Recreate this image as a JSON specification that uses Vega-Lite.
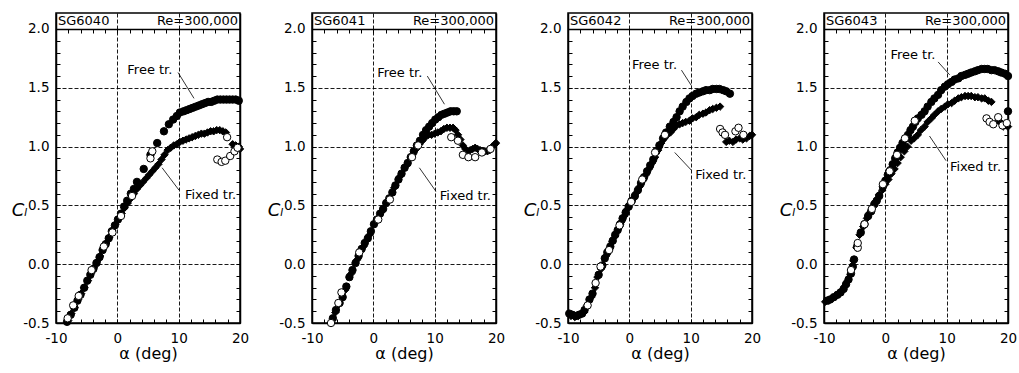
{
"$schema":"https://vega.github.io/schema/vega-lite/v6.json",
"background":"white",
"padding":{"left":10,"top":12,"right":0,"bottom":0},
"spacing":16,
"config":{
 "view":{"stroke":"black","strokeWidth":1.5},
 "axis":{"labelColor":"black","tickColor":"black","domainColor":"black","titleColor":"black","labelFont":"DejaVu Sans","titleFont":"DejaVu Sans","titleFontWeight":"normal","labelFontSize":13.5,"domainWidth":1.5,"tickWidth":1,"labelFlush":false,"labelOverlap":false,"gridColor":"black","gridDash":[4,2],"gridWidth":0.9},
 "text":{"font":"DejaVu Sans","fontSize":13,"color":"black"}
},
"datasets":{
 "p1":[
  {"s":"free","a":-8.2,"c":-0.49},{"s":"free","a":-7.6,"c":-0.43},{"s":"free","a":-7.0,"c":-0.37},{"s":"free","a":-6.5,"c":-0.31},{"s":"free","a":-6.0,"c":-0.26},{"s":"free","a":-5.4,"c":-0.2},{"s":"free","a":-4.9,"c":-0.14},{"s":"free","a":-4.4,"c":-0.09},{"s":"free","a":-3.9,"c":-0.04},{"s":"free","a":-3.4,"c":0.01},{"s":"free","a":-2.9,"c":0.06},{"s":"free","a":-2.4,"c":0.12},{"s":"free","a":-1.9,"c":0.17},{"s":"free","a":-1.4,"c":0.22},{"s":"free","a":-0.9,"c":0.28},{"s":"free","a":-0.4,"c":0.33},{"s":"free","a":0.1,"c":0.38},{"s":"free","a":0.6,"c":0.43},{"s":"free","a":1.1,"c":0.49},{"s":"free","a":1.6,"c":0.54},{"s":"free","a":2.2,"c":0.6},{"s":"free","a":2.7,"c":0.64},{"s":"free","a":3.2,"c":0.7},{"s":"free","a":4.3,"c":0.81},{"s":"free","a":5.4,"c":0.93},{"s":"free","a":6.5,"c":1.03},{"s":"free","a":7.6,"c":1.13},{"s":"free","a":8.4,"c":1.19},{"s":"free","a":9.1,"c":1.23},{"s":"free","a":9.7,"c":1.26},{"s":"free","a":10.2,"c":1.29},{"s":"free","a":10.8,"c":1.3},{"s":"free","a":11.3,"c":1.31},{"s":"free","a":11.8,"c":1.32},{"s":"free","a":12.3,"c":1.33},{"s":"free","a":12.8,"c":1.34},{"s":"free","a":13.3,"c":1.35},{"s":"free","a":13.8,"c":1.36},{"s":"free","a":14.3,"c":1.37},{"s":"free","a":14.8,"c":1.38},{"s":"free","a":15.3,"c":1.38},{"s":"free","a":15.8,"c":1.39},{"s":"free","a":16.3,"c":1.4},{"s":"free","a":16.8,"c":1.4},{"s":"free","a":17.3,"c":1.4},{"s":"free","a":17.8,"c":1.4},{"s":"free","a":18.3,"c":1.4},{"s":"free","a":18.8,"c":1.4},{"s":"free","a":19.3,"c":1.4},{"s":"free","a":19.8,"c":1.39},
  {"s":"fixed","a":-8.0,"c":-0.48},{"s":"fixed","a":-7.5,"c":-0.42},{"s":"fixed","a":-7.0,"c":-0.37},{"s":"fixed","a":-6.4,"c":-0.3},{"s":"fixed","a":-5.9,"c":-0.25},{"s":"fixed","a":-5.4,"c":-0.2},{"s":"fixed","a":-4.8,"c":-0.14},{"s":"fixed","a":-4.3,"c":-0.08},{"s":"fixed","a":-3.8,"c":-0.03},{"s":"fixed","a":-3.3,"c":0.02},{"s":"fixed","a":-2.8,"c":0.07},{"s":"fixed","a":-2.3,"c":0.13},{"s":"fixed","a":-1.8,"c":0.18},{"s":"fixed","a":-1.3,"c":0.23},{"s":"fixed","a":-0.8,"c":0.29},{"s":"fixed","a":-0.3,"c":0.34},{"s":"fixed","a":0.2,"c":0.39},{"s":"fixed","a":0.7,"c":0.43},{"s":"fixed","a":1.2,"c":0.48},{"s":"fixed","a":1.7,"c":0.52},{"s":"fixed","a":2.2,"c":0.56},{"s":"fixed","a":2.7,"c":0.6},{"s":"fixed","a":3.2,"c":0.64},{"s":"fixed","a":3.7,"c":0.67},{"s":"fixed","a":4.2,"c":0.7},{"s":"fixed","a":4.7,"c":0.73},{"s":"fixed","a":5.2,"c":0.76},{"s":"fixed","a":5.7,"c":0.79},{"s":"fixed","a":6.2,"c":0.82},{"s":"fixed","a":6.7,"c":0.85},{"s":"fixed","a":7.2,"c":0.89},{"s":"fixed","a":7.7,"c":0.93},{"s":"fixed","a":8.2,"c":0.97},{"s":"fixed","a":8.7,"c":0.99},{"s":"fixed","a":9.2,"c":1.01},{"s":"fixed","a":9.7,"c":1.02},{"s":"fixed","a":10.2,"c":1.04},{"s":"fixed","a":10.7,"c":1.05},{"s":"fixed","a":11.2,"c":1.06},{"s":"fixed","a":11.7,"c":1.07},{"s":"fixed","a":12.2,"c":1.08},{"s":"fixed","a":12.7,"c":1.09},{"s":"fixed","a":13.2,"c":1.1},{"s":"fixed","a":13.7,"c":1.11},{"s":"fixed","a":14.2,"c":1.11},{"s":"fixed","a":14.7,"c":1.12},{"s":"fixed","a":15.2,"c":1.13},{"s":"fixed","a":15.7,"c":1.13},{"s":"fixed","a":16.2,"c":1.14},{"s":"fixed","a":16.7,"c":1.14},{"s":"fixed","a":17.2,"c":1.13},{"s":"fixed","a":17.7,"c":1.12},{"s":"fixed","a":18.8,"c":1.02},{"s":"fixed","a":19.3,"c":1.01},{"s":"fixed","a":19.8,"c":1.0},{"s":"fixed","a":20.0,"c":0.98},
  {"s":"open","a":-8.1,"c":-0.46},{"s":"open","a":-7.2,"c":-0.35},{"s":"open","a":-6.3,"c":-0.27},{"s":"open","a":-4.2,"c":-0.05},{"s":"open","a":-2.2,"c":0.15},{"s":"open","a":-0.8,"c":0.27},{"s":"open","a":0.6,"c":0.41},{"s":"open","a":2.4,"c":0.58},{"s":"open","a":5.4,"c":0.9},{"s":"open","a":5.7,"c":0.96},{"s":"open","a":17.9,"c":1.08},{"s":"open","a":16.3,"c":0.89},{"s":"open","a":17.0,"c":0.87},{"s":"open","a":17.6,"c":0.88},{"s":"open","a":18.4,"c":0.92},{"s":"open","a":19.1,"c":0.96},{"s":"open","a":19.6,"c":0.99}
 ],
 "n1":[
  {"t":"Free tr.","a":5.3,"c":1.65,"a1":9.9,"c1":1.63,"a2":12.5,"c2":1.41},
  {"t":"Fixed tr.","a":15.2,"c":0.59,"a1":10.05,"c1":0.63,"a2":7.3,"c2":0.82}
 ],
 "p2":[
  {"s":"free","a":-6.6,"c":-0.46},{"s":"free","a":-6.1,"c":-0.39},{"s":"free","a":-5.5,"c":-0.33},{"s":"free","a":-5.0,"c":-0.28},{"s":"free","a":-4.4,"c":-0.19},{"s":"free","a":-3.9,"c":-0.11},{"s":"free","a":-3.4,"c":-0.05},{"s":"free","a":-2.9,"c":0.01},{"s":"free","a":-2.4,"c":0.07},{"s":"free","a":-1.9,"c":0.13},{"s":"free","a":-1.4,"c":0.18},{"s":"free","a":-0.9,"c":0.22},{"s":"free","a":-0.4,"c":0.28},{"s":"free","a":0.1,"c":0.34},{"s":"free","a":0.6,"c":0.38},{"s":"free","a":1.1,"c":0.43},{"s":"free","a":1.6,"c":0.47},{"s":"free","a":2.1,"c":0.52},{"s":"free","a":2.6,"c":0.56},{"s":"free","a":3.1,"c":0.61},{"s":"free","a":3.6,"c":0.67},{"s":"free","a":4.1,"c":0.72},{"s":"free","a":4.6,"c":0.77},{"s":"free","a":5.1,"c":0.82},{"s":"free","a":5.6,"c":0.86},{"s":"free","a":6.1,"c":0.91},{"s":"free","a":6.6,"c":0.96},{"s":"free","a":7.1,"c":1.01},{"s":"free","a":7.6,"c":1.05},{"s":"free","a":8.1,"c":1.1},{"s":"free","a":8.6,"c":1.14},{"s":"free","a":9.1,"c":1.17},{"s":"free","a":9.6,"c":1.2},{"s":"free","a":10.1,"c":1.23},{"s":"free","a":10.6,"c":1.25},{"s":"free","a":11.1,"c":1.27},{"s":"free","a":11.6,"c":1.28},{"s":"free","a":12.1,"c":1.29},{"s":"free","a":12.6,"c":1.3},{"s":"free","a":13.1,"c":1.3},{"s":"free","a":13.6,"c":1.3},
  {"s":"fixed","a":-6.2,"c":-0.41},{"s":"fixed","a":-5.6,"c":-0.34},{"s":"fixed","a":-4.6,"c":-0.22},{"s":"fixed","a":-3.6,"c":-0.08},{"s":"fixed","a":-2.6,"c":0.04},{"s":"fixed","a":-1.6,"c":0.15},{"s":"fixed","a":-0.6,"c":0.25},{"s":"fixed","a":0.4,"c":0.36},{"s":"fixed","a":1.4,"c":0.45},{"s":"fixed","a":2.4,"c":0.54},{"s":"fixed","a":3.4,"c":0.65},{"s":"fixed","a":4.4,"c":0.75},{"s":"fixed","a":5.4,"c":0.84},{"s":"fixed","a":6.4,"c":0.93},{"s":"fixed","a":7.0,"c":0.98},{"s":"fixed","a":7.5,"c":1.02},{"s":"fixed","a":8.0,"c":1.05},{"s":"fixed","a":8.5,"c":1.08},{"s":"fixed","a":9.0,"c":1.1},{"s":"fixed","a":9.5,"c":1.1},{"s":"fixed","a":10.0,"c":1.11},{"s":"fixed","a":10.5,"c":1.12},{"s":"fixed","a":11.0,"c":1.13},{"s":"fixed","a":11.5,"c":1.15},{"s":"fixed","a":12.0,"c":1.16},{"s":"fixed","a":12.5,"c":1.16},{"s":"fixed","a":13.0,"c":1.16},{"s":"fixed","a":13.4,"c":1.14},{"s":"fixed","a":13.8,"c":1.1},{"s":"fixed","a":14.2,"c":1.06},{"s":"fixed","a":14.6,"c":1.01},{"s":"fixed","a":15.0,"c":0.98},{"s":"fixed","a":15.4,"c":0.96},{"s":"fixed","a":15.8,"c":0.97},{"s":"fixed","a":16.2,"c":0.98},{"s":"fixed","a":16.6,"c":0.99},{"s":"fixed","a":17.0,"c":0.98},{"s":"fixed","a":17.4,"c":0.97},{"s":"fixed","a":17.8,"c":0.96},{"s":"fixed","a":18.2,"c":0.96},{"s":"fixed","a":18.6,"c":0.96},{"s":"fixed","a":19.0,"c":0.97},{"s":"fixed","a":19.4,"c":1.0},{"s":"fixed","a":19.8,"c":1.02},{"s":"fixed","a":20.0,"c":1.03},
  {"s":"open","a":-6.9,"c":-0.5},{"s":"open","a":-5.7,"c":-0.33},{"s":"open","a":-5.2,"c":-0.24},{"s":"open","a":-2.3,"c":0.1},{"s":"open","a":0.8,"c":0.38},{"s":"open","a":2.7,"c":0.55},{"s":"open","a":6.3,"c":0.91},{"s":"open","a":7.3,"c":1.01},{"s":"open","a":12.7,"c":1.08},{"s":"open","a":13.8,"c":1.05},{"s":"open","a":14.6,"c":0.93},{"s":"open","a":15.5,"c":0.91},{"s":"open","a":16.6,"c":0.91},{"s":"open","a":17.7,"c":0.95},{"s":"open","a":19.1,"c":0.98}
 ],
 "n2":[
  {"t":"Free tr.","a":4.3,"c":1.63,"a1":8.8,"c1":1.6,"a2":11.6,"c2":1.36},
  {"t":"Fixed tr.","a":15.0,"c":0.58,"a1":10.2,"c1":0.62,"a2":7.5,"c2":0.82}
 ],
 "p3":[
  {"s":"free","a":-9.8,"c":-0.42},{"s":"free","a":-9.3,"c":-0.43},{"s":"free","a":-8.7,"c":-0.44},{"s":"free","a":-8.2,"c":-0.43},{"s":"free","a":-7.7,"c":-0.42},{"s":"free","a":-7.3,"c":-0.39},{"s":"free","a":-6.5,"c":-0.3},{"s":"free","a":-6.0,"c":-0.25},{"s":"free","a":-5.0,"c":-0.09},{"s":"free","a":-4.4,"c":-0.01},{"s":"free","a":-4.0,"c":0.05},{"s":"free","a":-3.6,"c":0.1},{"s":"free","a":-3.1,"c":0.15},{"s":"free","a":-2.7,"c":0.2},{"s":"free","a":-2.3,"c":0.25},{"s":"free","a":-1.9,"c":0.29},{"s":"free","a":-1.5,"c":0.34},{"s":"free","a":-1.1,"c":0.39},{"s":"free","a":-0.6,"c":0.44},{"s":"free","a":-0.1,"c":0.49},{"s":"free","a":0.4,"c":0.54},{"s":"free","a":0.9,"c":0.58},{"s":"free","a":1.4,"c":0.63},{"s":"free","a":1.9,"c":0.69},{"s":"free","a":2.4,"c":0.74},{"s":"free","a":2.9,"c":0.79},{"s":"free","a":3.4,"c":0.84},{"s":"free","a":3.9,"c":0.89},{"s":"free","a":4.4,"c":0.96},{"s":"free","a":4.9,"c":1.01},{"s":"free","a":5.5,"c":1.07},{"s":"free","a":6.0,"c":1.12},{"s":"free","a":6.6,"c":1.17},{"s":"free","a":7.2,"c":1.21},{"s":"free","a":7.7,"c":1.25},{"s":"free","a":8.2,"c":1.3},{"s":"free","a":8.7,"c":1.34},{"s":"free","a":9.3,"c":1.38},{"s":"free","a":9.8,"c":1.41},{"s":"free","a":10.3,"c":1.43},{"s":"free","a":10.9,"c":1.45},{"s":"free","a":11.4,"c":1.46},{"s":"free","a":12.0,"c":1.47},{"s":"free","a":12.5,"c":1.48},{"s":"free","a":13.1,"c":1.48},{"s":"free","a":13.6,"c":1.49},{"s":"free","a":14.2,"c":1.49},{"s":"free","a":14.7,"c":1.49},{"s":"free","a":15.3,"c":1.48},{"s":"free","a":15.8,"c":1.47},{"s":"free","a":16.4,"c":1.45},
  {"s":"fixed","a":-9.5,"c":-0.44},{"s":"fixed","a":-8.9,"c":-0.45},{"s":"fixed","a":-8.3,"c":-0.44},{"s":"fixed","a":-7.4,"c":-0.41},{"s":"fixed","a":-6.9,"c":-0.35},{"s":"fixed","a":-6.2,"c":-0.28},{"s":"fixed","a":-5.6,"c":-0.2},{"s":"fixed","a":-5.2,"c":-0.11},{"s":"fixed","a":-4.6,"c":-0.04},{"s":"fixed","a":-3.8,"c":0.07},{"s":"fixed","a":-3.3,"c":0.13},{"s":"fixed","a":-2.8,"c":0.19},{"s":"fixed","a":-2.3,"c":0.24},{"s":"fixed","a":-1.8,"c":0.3},{"s":"fixed","a":-1.3,"c":0.36},{"s":"fixed","a":-0.8,"c":0.41},{"s":"fixed","a":-0.3,"c":0.47},{"s":"fixed","a":0.2,"c":0.52},{"s":"fixed","a":0.7,"c":0.56},{"s":"fixed","a":1.2,"c":0.61},{"s":"fixed","a":1.7,"c":0.66},{"s":"fixed","a":2.2,"c":0.71},{"s":"fixed","a":2.7,"c":0.76},{"s":"fixed","a":3.2,"c":0.81},{"s":"fixed","a":3.7,"c":0.86},{"s":"fixed","a":4.2,"c":0.91},{"s":"fixed","a":4.7,"c":0.97},{"s":"fixed","a":5.2,"c":1.03},{"s":"fixed","a":5.7,"c":1.07},{"s":"fixed","a":6.2,"c":1.1},{"s":"fixed","a":6.7,"c":1.12},{"s":"fixed","a":7.2,"c":1.15},{"s":"fixed","a":7.7,"c":1.18},{"s":"fixed","a":8.2,"c":1.19},{"s":"fixed","a":8.7,"c":1.2},{"s":"fixed","a":9.2,"c":1.21},{"s":"fixed","a":9.8,"c":1.22},{"s":"fixed","a":10.3,"c":1.24},{"s":"fixed","a":10.9,"c":1.25},{"s":"fixed","a":11.4,"c":1.27},{"s":"fixed","a":12.0,"c":1.28},{"s":"fixed","a":12.5,"c":1.29},{"s":"fixed","a":13.1,"c":1.31},{"s":"fixed","a":13.6,"c":1.32},{"s":"fixed","a":14.2,"c":1.33},{"s":"fixed","a":14.8,"c":1.34},{"s":"fixed","a":15.8,"c":1.04},{"s":"fixed","a":16.3,"c":1.05},{"s":"fixed","a":16.9,"c":1.04},{"s":"fixed","a":17.4,"c":1.06},{"s":"fixed","a":18.0,"c":1.07},{"s":"fixed","a":18.5,"c":1.06},{"s":"fixed","a":19.1,"c":1.07},{"s":"fixed","a":19.6,"c":1.09},{"s":"fixed","a":20.0,"c":1.1},
  {"s":"open","a":-6.8,"c":-0.35},{"s":"open","a":-5.5,"c":-0.16},{"s":"open","a":-4.7,"c":-0.02},{"s":"open","a":-3.3,"c":0.12},{"s":"open","a":-1.6,"c":0.33},{"s":"open","a":0.3,"c":0.53},{"s":"open","a":2.1,"c":0.72},{"s":"open","a":4.2,"c":0.95},{"s":"open","a":5.8,"c":1.1},{"s":"open","a":14.8,"c":1.15},{"s":"open","a":15.2,"c":1.12},{"s":"open","a":15.6,"c":1.1},{"s":"open","a":17.3,"c":1.13},{"s":"open","a":17.8,"c":1.16},{"s":"open","a":18.6,"c":1.1}
 ],
 "n3":[
  {"t":"Free tr.","a":4.1,"c":1.69,"a1":8.5,"c1":1.65,"a2":10.1,"c2":1.52},
  {"t":"Fixed tr.","a":14.9,"c":0.76,"a1":10.1,"c1":0.8,"a2":7.4,"c2":0.95}
 ],
 "p4":[
  {"s":"free","a":-9.5,"c":-0.31},{"s":"free","a":-9.0,"c":-0.3},{"s":"free","a":-8.4,"c":-0.28},{"s":"free","a":-7.8,"c":-0.26},{"s":"free","a":-7.3,"c":-0.24},{"s":"free","a":-6.8,"c":-0.21},{"s":"free","a":-6.4,"c":-0.17},{"s":"free","a":-6.0,"c":-0.13},{"s":"free","a":-5.6,"c":-0.08},{"s":"free","a":-5.3,"c":-0.02},{"s":"free","a":-5.1,"c":0.04},{"s":"free","a":-4.6,"c":0.15},{"s":"free","a":-4.0,"c":0.27},{"s":"free","a":-3.4,"c":0.34},{"s":"free","a":-2.8,"c":0.41},{"s":"free","a":-2.3,"c":0.45},{"s":"free","a":-1.8,"c":0.51},{"s":"free","a":-1.4,"c":0.54},{"s":"free","a":-1.0,"c":0.58},{"s":"free","a":-0.4,"c":0.66},{"s":"free","a":0.0,"c":0.71},{"s":"free","a":0.4,"c":0.76},{"s":"free","a":0.8,"c":0.8},{"s":"free","a":1.2,"c":0.85},{"s":"free","a":1.6,"c":0.9},{"s":"free","a":2.0,"c":0.95},{"s":"free","a":2.4,"c":0.99},{"s":"free","a":2.8,"c":1.03},{"s":"free","a":3.3,"c":1.07},{"s":"free","a":3.7,"c":1.1},{"s":"free","a":4.1,"c":1.14},{"s":"free","a":4.5,"c":1.17},{"s":"free","a":4.9,"c":1.21},{"s":"free","a":5.3,"c":1.24},{"s":"free","a":5.9,"c":1.27},{"s":"free","a":6.4,"c":1.3},{"s":"free","a":6.9,"c":1.34},{"s":"free","a":7.5,"c":1.38},{"s":"free","a":8.0,"c":1.41},{"s":"free","a":8.6,"c":1.44},{"s":"free","a":9.1,"c":1.48},{"s":"free","a":9.7,"c":1.51},{"s":"free","a":10.2,"c":1.53},{"s":"free","a":10.8,"c":1.55},{"s":"free","a":11.3,"c":1.57},{"s":"free","a":11.9,"c":1.58},{"s":"free","a":12.4,"c":1.6},{"s":"free","a":13.0,"c":1.61},{"s":"free","a":13.5,"c":1.62},{"s":"free","a":14.0,"c":1.63},{"s":"free","a":14.6,"c":1.64},{"s":"free","a":15.1,"c":1.65},{"s":"free","a":15.7,"c":1.66},{"s":"free","a":16.2,"c":1.66},{"s":"free","a":16.7,"c":1.66},{"s":"free","a":17.3,"c":1.65},{"s":"free","a":17.8,"c":1.65},{"s":"free","a":18.4,"c":1.64},{"s":"free","a":18.9,"c":1.63},{"s":"free","a":19.5,"c":1.62},{"s":"free","a":20.0,"c":1.6},{"s":"free","a":20.0,"c":1.3},
  {"s":"fixed","a":-9.8,"c":-0.32},{"s":"fixed","a":-9.2,"c":-0.31},{"s":"fixed","a":-8.6,"c":-0.29},{"s":"fixed","a":-8.0,"c":-0.27},{"s":"fixed","a":-7.5,"c":-0.25},{"s":"fixed","a":-7.0,"c":-0.22},{"s":"fixed","a":-6.5,"c":-0.18},{"s":"fixed","a":-6.1,"c":-0.14},{"s":"fixed","a":-5.7,"c":-0.09},{"s":"fixed","a":-5.4,"c":-0.03},{"s":"fixed","a":-5.2,"c":0.03},{"s":"fixed","a":-4.7,"c":0.14},{"s":"fixed","a":-4.2,"c":0.25},{"s":"fixed","a":-3.6,"c":0.32},{"s":"fixed","a":-3.0,"c":0.39},{"s":"fixed","a":-2.5,"c":0.44},{"s":"fixed","a":-2.0,"c":0.49},{"s":"fixed","a":-1.5,"c":0.54},{"s":"fixed","a":-1.0,"c":0.59},{"s":"fixed","a":-0.5,"c":0.63},{"s":"fixed","a":0.0,"c":0.68},{"s":"fixed","a":0.5,"c":0.72},{"s":"fixed","a":1.0,"c":0.77},{"s":"fixed","a":1.5,"c":0.81},{"s":"fixed","a":2.0,"c":0.86},{"s":"fixed","a":2.5,"c":0.91},{"s":"fixed","a":3.1,"c":0.96},{"s":"fixed","a":3.6,"c":1.0},{"s":"fixed","a":4.2,"c":1.05},{"s":"fixed","a":4.7,"c":1.07},{"s":"fixed","a":5.3,"c":1.1},{"s":"fixed","a":5.8,"c":1.14},{"s":"fixed","a":6.4,"c":1.17},{"s":"fixed","a":6.9,"c":1.21},{"s":"fixed","a":7.5,"c":1.24},{"s":"fixed","a":8.0,"c":1.27},{"s":"fixed","a":8.6,"c":1.3},{"s":"fixed","a":9.1,"c":1.32},{"s":"fixed","a":9.7,"c":1.34},{"s":"fixed","a":10.2,"c":1.36},{"s":"fixed","a":10.8,"c":1.37},{"s":"fixed","a":11.3,"c":1.39},{"s":"fixed","a":11.9,"c":1.41},{"s":"fixed","a":12.4,"c":1.42},{"s":"fixed","a":13.0,"c":1.43},{"s":"fixed","a":13.5,"c":1.43},{"s":"fixed","a":14.0,"c":1.43},{"s":"fixed","a":14.6,"c":1.42},{"s":"fixed","a":15.1,"c":1.42},{"s":"fixed","a":15.7,"c":1.41},{"s":"fixed","a":16.2,"c":1.41},{"s":"fixed","a":16.8,"c":1.39},{"s":"fixed","a":17.3,"c":1.38},{"s":"fixed","a":18.4,"c":1.22},{"s":"fixed","a":18.9,"c":1.2},{"s":"fixed","a":19.2,"c":1.17},{"s":"fixed","a":19.7,"c":1.18},{"s":"fixed","a":20.0,"c":1.17},
  {"s":"open","a":-5.6,"c":-0.05},{"s":"open","a":-4.5,"c":0.14},{"s":"open","a":-4.5,"c":0.18},{"s":"open","a":-3.4,"c":0.34},{"s":"open","a":-2.2,"c":0.47},{"s":"open","a":-0.4,"c":0.68},{"s":"open","a":0.7,"c":0.79},{"s":"open","a":1.9,"c":0.93},{"s":"open","a":3.2,"c":1.07},{"s":"open","a":4.8,"c":1.22},{"s":"open","a":16.5,"c":1.24},{"s":"open","a":17.0,"c":1.21},{"s":"open","a":17.6,"c":1.19},{"s":"open","a":18.4,"c":1.25},{"s":"open","a":19.1,"c":1.18},{"s":"open","a":19.8,"c":1.2}
 ],
 "n4":[
  {"t":"Free tr.","a":4.5,"c":1.78,"a1":8.6,"c1":1.72,"a2":10.5,"c2":1.61},
  {"t":"Fixed tr.","a":14.7,"c":0.83,"a1":9.9,"c1":0.88,"a2":7.2,"c2":1.09}
 ]
},
"hconcat":[
 {"width":184,"height":310,"layer":[
  {"data":{"name":"p1"},"mark":{"type":"point","filled":true,"size":55,"stroke":"black","strokeWidth":1,"opacity":1},
   "encoding":{
    "x":{"field":"a","type":"quantitative","scale":{"domain":[-10,20],"nice":false,"zero":false},"axis":{"orient":"bottom","values":[-10,-8,-6,-4,-2,0,2,4,6,8,10,12,14,16,18,20],"labelExpr":"datum.value % 10 === 0 ? '' + datum.value : ''","tickSize":-4,"labelPadding":12,"grid":true,"gridOpacity":{"condition":{"test":"datum.value === 0 || datum.value === 10","value":1},"value":0},"title":"α (deg)","titleFontSize":16,"titlePadding":1}},
    "y":{"field":"c","type":"quantitative","scale":{"domain":[-0.5,2.136],"nice":false,"zero":false},"axis":{"orient":"left","values":[-0.5,-0.4,-0.3,-0.2,-0.1,0,0.1,0.2,0.3,0.4,0.5,0.6,0.7,0.8,0.9,1,1.1,1.2,1.3,1.4,1.5,1.6,1.7,1.8,1.9,2],"labelExpr":"datum.value * 2 % 1 === 0 ? (datum.value < 0 ? '-' : '') + format(abs(datum.value), '.1f') : ''","tickSize":-4,"labelPadding":11,"grid":true,"gridOpacity":{"condition":{"test":"datum.value * 2 % 1 === 0 && datum.value > -0.4 && datum.value < 1.9","value":1},"value":0},"title":"Cₗ","titleAngle":0,"titleX":-37,"titleY":197,"titleAlign":"center","titleBaseline":"middle","titleFont":"DejaVu Sans","titleFontStyle":"italic","titleFontSize":18}},
    "shape":{"field":"s","type":"nominal","scale":{"domain":["free","fixed","open"],"range":["circle","diamond","circle"]},"legend":null},
    "fill":{"field":"s","type":"nominal","scale":{"domain":["free","fixed","open"],"range":["black","black","white"]},"legend":null}}},
  {"data":{"name":"n1"},"mark":{"type":"rule","color":"black","strokeWidth":0.8},
   "encoding":{
    "x":{"field":"a1","type":"quantitative","scale":{"domain":[-10,20],"nice":false,"zero":false},"axis":{"orient":"top","offset":-16,"values":[-10,-8,-6,-4,-2,0,2,4,6,8,10,12,14,16,18,20],"labels":false,"tickSize":-4,"grid":false,"title":null}},
    "y":{"field":"c1","type":"quantitative","scale":{"domain":[-0.5,2.136],"nice":false,"zero":false},"axis":{"orient":"right","values":[-0.5,-0.4,-0.3,-0.2,-0.1,0,0.1,0.2,0.3,0.4,0.5,0.6,0.7,0.8,0.9,1,1.1,1.2,1.3,1.4,1.5,1.6,1.7,1.8,1.9,2],"labels":false,"tickSize":-4,"grid":false,"title":null}},
    "x2":{"field":"a2"},"y2":{"field":"c2"}}},
  {"data":{"name":"n1"},"mark":{"type":"text","align":"center","baseline":"middle","fontSize":13},
   "encoding":{"x":{"field":"a","type":"quantitative","axis":null},"y":{"field":"c","type":"quantitative","axis":null},"text":{"field":"t"}}},
  {"data":{"values":[{"t":"SG6040"}]},"mark":{"type":"text","align":"left","baseline":"middle","dx":2,"fontSize":13},
   "encoding":{"x":{"datum":-10,"type":"quantitative","axis":null},"y":{"datum":2.068,"type":"quantitative","axis":null},"text":{"field":"t"}}},
  {"data":{"values":[{"t":"Re=300,000"}]},"mark":{"type":"text","align":"right","baseline":"middle","dx":-2,"fontSize":13},
   "encoding":{"x":{"datum":20,"type":"quantitative","axis":null},"y":{"datum":2.068,"type":"quantitative","axis":null},"text":{"field":"t"}}}
 ]},
 {"width":184,"height":310,"layer":[
  {"data":{"name":"p2"},"mark":{"type":"point","filled":true,"size":55,"stroke":"black","strokeWidth":1,"opacity":1},
   "encoding":{
    "x":{"field":"a","type":"quantitative","scale":{"domain":[-10,20],"nice":false,"zero":false},"axis":{"orient":"bottom","values":[-10,-8,-6,-4,-2,0,2,4,6,8,10,12,14,16,18,20],"labelExpr":"datum.value % 10 === 0 ? '' + datum.value : ''","tickSize":-4,"labelPadding":12,"grid":true,"gridOpacity":{"condition":{"test":"datum.value === 0 || datum.value === 10","value":1},"value":0},"title":"α (deg)","titleFontSize":16,"titlePadding":1}},
    "y":{"field":"c","type":"quantitative","scale":{"domain":[-0.5,2.136],"nice":false,"zero":false},"axis":{"orient":"left","values":[-0.5,-0.4,-0.3,-0.2,-0.1,0,0.1,0.2,0.3,0.4,0.5,0.6,0.7,0.8,0.9,1,1.1,1.2,1.3,1.4,1.5,1.6,1.7,1.8,1.9,2],"labelExpr":"datum.value * 2 % 1 === 0 ? (datum.value < 0 ? '-' : '') + format(abs(datum.value), '.1f') : ''","tickSize":-4,"labelPadding":11,"grid":true,"gridOpacity":{"condition":{"test":"datum.value * 2 % 1 === 0 && datum.value > -0.4 && datum.value < 1.9","value":1},"value":0},"title":"Cₗ","titleAngle":0,"titleX":-37,"titleY":197,"titleAlign":"center","titleBaseline":"middle","titleFont":"DejaVu Sans","titleFontStyle":"italic","titleFontSize":18}},
    "shape":{"field":"s","type":"nominal","scale":{"domain":["free","fixed","open"],"range":["circle","diamond","circle"]},"legend":null},
    "fill":{"field":"s","type":"nominal","scale":{"domain":["free","fixed","open"],"range":["black","black","white"]},"legend":null}}},
  {"data":{"name":"n2"},"mark":{"type":"rule","color":"black","strokeWidth":0.8},
   "encoding":{
    "x":{"field":"a1","type":"quantitative","scale":{"domain":[-10,20],"nice":false,"zero":false},"axis":{"orient":"top","offset":-16,"values":[-10,-8,-6,-4,-2,0,2,4,6,8,10,12,14,16,18,20],"labels":false,"tickSize":-4,"grid":false,"title":null}},
    "y":{"field":"c1","type":"quantitative","scale":{"domain":[-0.5,2.136],"nice":false,"zero":false},"axis":{"orient":"right","values":[-0.5,-0.4,-0.3,-0.2,-0.1,0,0.1,0.2,0.3,0.4,0.5,0.6,0.7,0.8,0.9,1,1.1,1.2,1.3,1.4,1.5,1.6,1.7,1.8,1.9,2],"labels":false,"tickSize":-4,"grid":false,"title":null}},
    "x2":{"field":"a2"},"y2":{"field":"c2"}}},
  {"data":{"name":"n2"},"mark":{"type":"text","align":"center","baseline":"middle","fontSize":13},
   "encoding":{"x":{"field":"a","type":"quantitative","axis":null},"y":{"field":"c","type":"quantitative","axis":null},"text":{"field":"t"}}},
  {"data":{"values":[{"t":"SG6041"}]},"mark":{"type":"text","align":"left","baseline":"middle","dx":2,"fontSize":13},
   "encoding":{"x":{"datum":-10,"type":"quantitative","axis":null},"y":{"datum":2.068,"type":"quantitative","axis":null},"text":{"field":"t"}}},
  {"data":{"values":[{"t":"Re=300,000"}]},"mark":{"type":"text","align":"right","baseline":"middle","dx":-2,"fontSize":13},
   "encoding":{"x":{"datum":20,"type":"quantitative","axis":null},"y":{"datum":2.068,"type":"quantitative","axis":null},"text":{"field":"t"}}}
 ]},
 {"width":184,"height":310,"layer":[
  {"data":{"name":"p3"},"mark":{"type":"point","filled":true,"size":55,"stroke":"black","strokeWidth":1,"opacity":1},
   "encoding":{
    "x":{"field":"a","type":"quantitative","scale":{"domain":[-10,20],"nice":false,"zero":false},"axis":{"orient":"bottom","values":[-10,-8,-6,-4,-2,0,2,4,6,8,10,12,14,16,18,20],"labelExpr":"datum.value % 10 === 0 ? '' + datum.value : ''","tickSize":-4,"labelPadding":12,"grid":true,"gridOpacity":{"condition":{"test":"datum.value === 0 || datum.value === 10","value":1},"value":0},"title":"α (deg)","titleFontSize":16,"titlePadding":1}},
    "y":{"field":"c","type":"quantitative","scale":{"domain":[-0.5,2.136],"nice":false,"zero":false},"axis":{"orient":"left","values":[-0.5,-0.4,-0.3,-0.2,-0.1,0,0.1,0.2,0.3,0.4,0.5,0.6,0.7,0.8,0.9,1,1.1,1.2,1.3,1.4,1.5,1.6,1.7,1.8,1.9,2],"labelExpr":"datum.value * 2 % 1 === 0 ? (datum.value < 0 ? '-' : '') + format(abs(datum.value), '.1f') : ''","tickSize":-4,"labelPadding":11,"grid":true,"gridOpacity":{"condition":{"test":"datum.value * 2 % 1 === 0 && datum.value > -0.4 && datum.value < 1.9","value":1},"value":0},"title":"Cₗ","titleAngle":0,"titleX":-37,"titleY":197,"titleAlign":"center","titleBaseline":"middle","titleFont":"DejaVu Sans","titleFontStyle":"italic","titleFontSize":18}},
    "shape":{"field":"s","type":"nominal","scale":{"domain":["free","fixed","open"],"range":["circle","diamond","circle"]},"legend":null},
    "fill":{"field":"s","type":"nominal","scale":{"domain":["free","fixed","open"],"range":["black","black","white"]},"legend":null}}},
  {"data":{"name":"n3"},"mark":{"type":"rule","color":"black","strokeWidth":0.8},
   "encoding":{
    "x":{"field":"a1","type":"quantitative","scale":{"domain":[-10,20],"nice":false,"zero":false},"axis":{"orient":"top","offset":-16,"values":[-10,-8,-6,-4,-2,0,2,4,6,8,10,12,14,16,18,20],"labels":false,"tickSize":-4,"grid":false,"title":null}},
    "y":{"field":"c1","type":"quantitative","scale":{"domain":[-0.5,2.136],"nice":false,"zero":false},"axis":{"orient":"right","values":[-0.5,-0.4,-0.3,-0.2,-0.1,0,0.1,0.2,0.3,0.4,0.5,0.6,0.7,0.8,0.9,1,1.1,1.2,1.3,1.4,1.5,1.6,1.7,1.8,1.9,2],"labels":false,"tickSize":-4,"grid":false,"title":null}},
    "x2":{"field":"a2"},"y2":{"field":"c2"}}},
  {"data":{"name":"n3"},"mark":{"type":"text","align":"center","baseline":"middle","fontSize":13},
   "encoding":{"x":{"field":"a","type":"quantitative","axis":null},"y":{"field":"c","type":"quantitative","axis":null},"text":{"field":"t"}}},
  {"data":{"values":[{"t":"SG6042"}]},"mark":{"type":"text","align":"left","baseline":"middle","dx":2,"fontSize":13},
   "encoding":{"x":{"datum":-10,"type":"quantitative","axis":null},"y":{"datum":2.068,"type":"quantitative","axis":null},"text":{"field":"t"}}},
  {"data":{"values":[{"t":"Re=300,000"}]},"mark":{"type":"text","align":"right","baseline":"middle","dx":-2,"fontSize":13},
   "encoding":{"x":{"datum":20,"type":"quantitative","axis":null},"y":{"datum":2.068,"type":"quantitative","axis":null},"text":{"field":"t"}}}
 ]},
 {"width":184,"height":310,"layer":[
  {"data":{"name":"p4"},"mark":{"type":"point","filled":true,"size":55,"stroke":"black","strokeWidth":1,"opacity":1},
   "encoding":{
    "x":{"field":"a","type":"quantitative","scale":{"domain":[-10,20],"nice":false,"zero":false},"axis":{"orient":"bottom","values":[-10,-8,-6,-4,-2,0,2,4,6,8,10,12,14,16,18,20],"labelExpr":"datum.value % 10 === 0 ? '' + datum.value : ''","tickSize":-4,"labelPadding":12,"grid":true,"gridOpacity":{"condition":{"test":"datum.value === 0 || datum.value === 10","value":1},"value":0},"title":"α (deg)","titleFontSize":16,"titlePadding":1}},
    "y":{"field":"c","type":"quantitative","scale":{"domain":[-0.5,2.136],"nice":false,"zero":false},"axis":{"orient":"left","values":[-0.5,-0.4,-0.3,-0.2,-0.1,0,0.1,0.2,0.3,0.4,0.5,0.6,0.7,0.8,0.9,1,1.1,1.2,1.3,1.4,1.5,1.6,1.7,1.8,1.9,2],"labelExpr":"datum.value * 2 % 1 === 0 ? (datum.value < 0 ? '-' : '') + format(abs(datum.value), '.1f') : ''","tickSize":-4,"labelPadding":11,"grid":true,"gridOpacity":{"condition":{"test":"datum.value * 2 % 1 === 0 && datum.value > -0.4 && datum.value < 1.9","value":1},"value":0},"title":"Cₗ","titleAngle":0,"titleX":-37,"titleY":197,"titleAlign":"center","titleBaseline":"middle","titleFont":"DejaVu Sans","titleFontStyle":"italic","titleFontSize":18}},
    "shape":{"field":"s","type":"nominal","scale":{"domain":["free","fixed","open"],"range":["circle","diamond","circle"]},"legend":null},
    "fill":{"field":"s","type":"nominal","scale":{"domain":["free","fixed","open"],"range":["black","black","white"]},"legend":null}}},
  {"data":{"name":"n4"},"mark":{"type":"rule","color":"black","strokeWidth":0.8},
   "encoding":{
    "x":{"field":"a1","type":"quantitative","scale":{"domain":[-10,20],"nice":false,"zero":false},"axis":{"orient":"top","offset":-16,"values":[-10,-8,-6,-4,-2,0,2,4,6,8,10,12,14,16,18,20],"labels":false,"tickSize":-4,"grid":false,"title":null}},
    "y":{"field":"c1","type":"quantitative","scale":{"domain":[-0.5,2.136],"nice":false,"zero":false},"axis":{"orient":"right","values":[-0.5,-0.4,-0.3,-0.2,-0.1,0,0.1,0.2,0.3,0.4,0.5,0.6,0.7,0.8,0.9,1,1.1,1.2,1.3,1.4,1.5,1.6,1.7,1.8,1.9,2],"labels":false,"tickSize":-4,"grid":false,"title":null}},
    "x2":{"field":"a2"},"y2":{"field":"c2"}}},
  {"data":{"name":"n4"},"mark":{"type":"text","align":"center","baseline":"middle","fontSize":13},
   "encoding":{"x":{"field":"a","type":"quantitative","axis":null},"y":{"field":"c","type":"quantitative","axis":null},"text":{"field":"t"}}},
  {"data":{"values":[{"t":"SG6043"}]},"mark":{"type":"text","align":"left","baseline":"middle","dx":2,"fontSize":13},
   "encoding":{"x":{"datum":-10,"type":"quantitative","axis":null},"y":{"datum":2.068,"type":"quantitative","axis":null},"text":{"field":"t"}}},
  {"data":{"values":[{"t":"Re=300,000"}]},"mark":{"type":"text","align":"right","baseline":"middle","dx":-2,"fontSize":13},
   "encoding":{"x":{"datum":20,"type":"quantitative","axis":null},"y":{"datum":2.068,"type":"quantitative","axis":null},"text":{"field":"t"}}}
 ]}
]
}
